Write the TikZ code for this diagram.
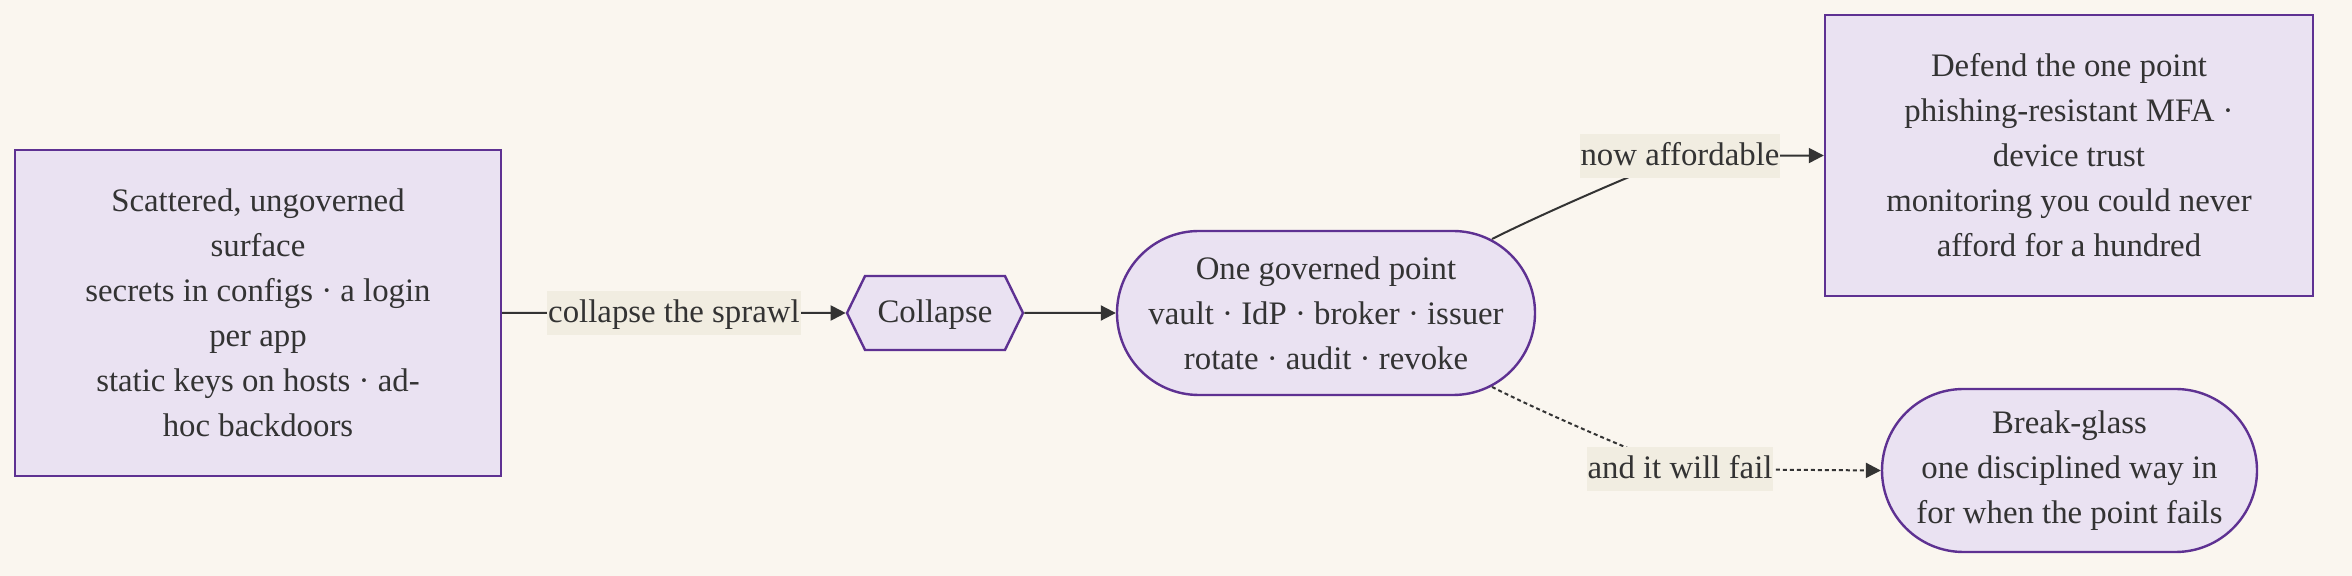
\documentclass[tikz,border=0pt]{standalone}
\usepackage{fontspec}
\setmainfont{Liberation Serif}
\usetikzlibrary{arrows.meta,shapes.symbols,calc}
\definecolor{paper}{HTML}{FAF6EF}
\definecolor{lilac}{HTML}{EAE2F2}
\definecolor{plum}{HTML}{5E3192}
\definecolor{ink}{HTML}{333333}
\definecolor{tagfill}{HTML}{F1EDE1}

\begin{document}
\begin{tikzpicture}[x=0.5pt, y=-0.5pt, line width=1pt, text=ink,
  font={\fontsize{16.4pt}{22.5pt}\selectfont},
  box/.style={draw=plum, fill=lilac, line width=1.2pt, align=center, inner sep=0pt},
  hexa/.style={box, shape=signal, signal to=west and east, signal pointer angle=128,
    text height=13.6pt, text depth=3.6pt},
  tag/.style={fill=tagfill, inner xsep=0.5pt, inner ysep=0pt, minimum height=22pt,
    text height=13.6pt, text depth=3.6pt},
  flow/.style={draw=ink, -{Triangle[length=7.5pt,width=7.5pt]}}]
  \fill[paper] (0,0) rectangle (2352,576);
  % nodes, placed at pixel centres
  \node[box, minimum width=243pt, minimum height=163pt] (scat) at (258,313)
    {Scattered, ungoverned\\surface\\secrets in configs · a login\\per app\\static keys on hosts · ad-\\hoc backdoors};
  \node[hexa, minimum width=88pt, minimum height=37pt] (coll) at (935,313) {Collapse};
  \node[box, rounded corners=41pt, minimum width=209pt, minimum height=82pt] (gov) at (1326,313)
    {One governed point\\vault · IdP · broker · issuer\\rotate · audit · revoke};
  \node[box, minimum width=244pt, minimum height=140.5pt] (defend) at (2069,155.5)
    {Defend the one point\\phishing-resistant MFA ·\\device trust\\monitoring you could never\\afford for a hundred};
  \node[box, rounded corners=40.75pt, minimum width=187.5pt, minimum height=81.5pt] (brk) at (2069.5,470.5)
    {Break-glass\\one disciplined way in\\for when the point fails};
  % connectors
  \draw[flow] (scat) -- node[tag] {collapse the sprawl} (coll);
  \draw[flow] (coll) -- (gov);
  \coordinate (m2) at (1680,156);
  \draw[flow] ($(gov.center)+(166,-74)$) .. controls (1540,215) and (1620,180) .. (m2) -- (defend.west);
  \node[tag] (lab2) at (m2) {now affordable};
  \coordinate (m3) at (1680,469);
  \draw[flow, dash pattern=on 2pt off 1.5pt] ($(gov.center)+(166,74)$) .. controls (1540,411) and (1620,446) .. (m3) -- (brk.west);
  \node[tag] (lab3) at (m3) {and it will fail};
\end{tikzpicture}
\end{document}
